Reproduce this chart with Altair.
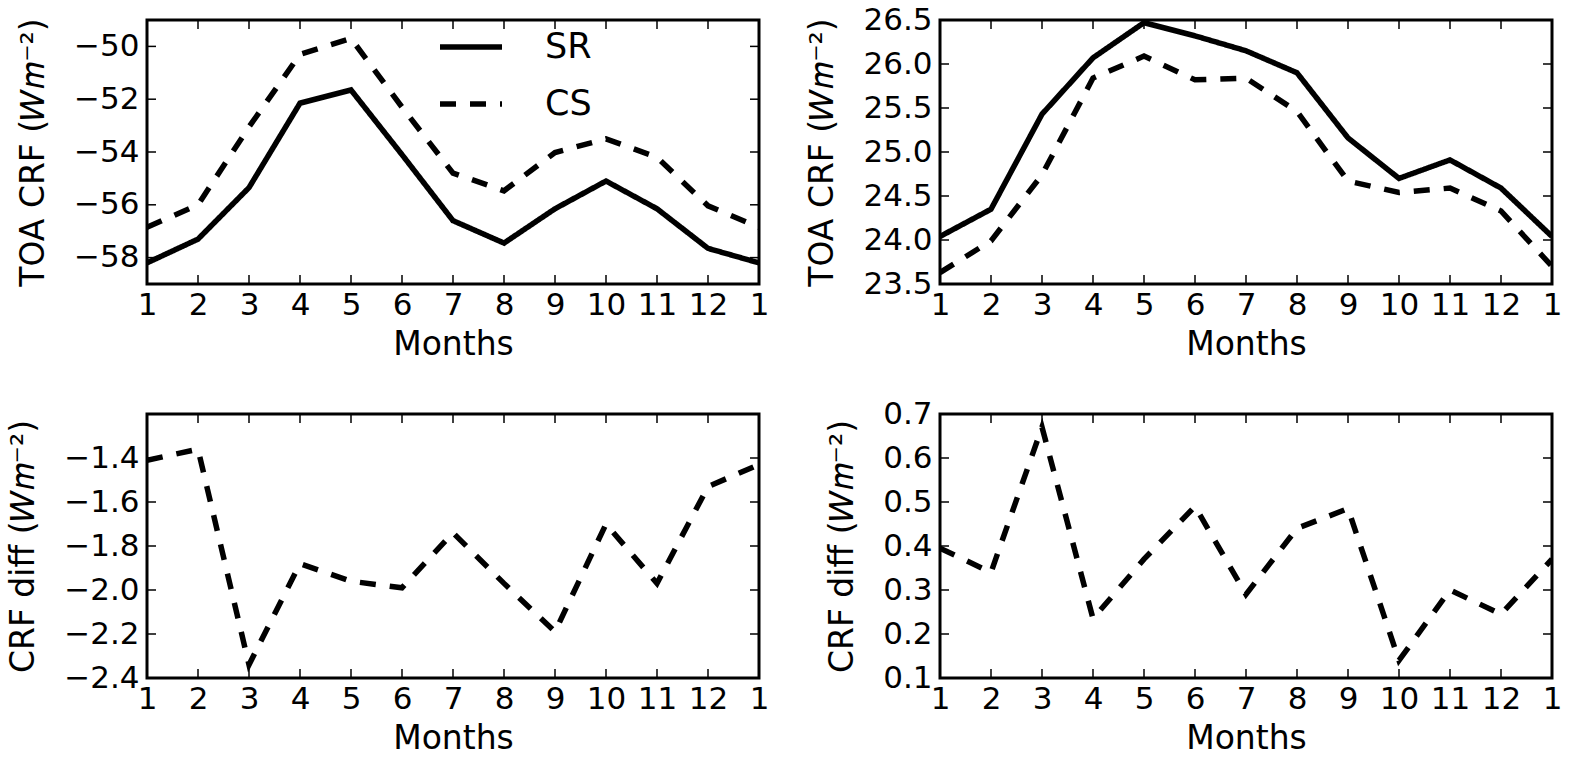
import altair as alt
import pandas as pd

# Month index; 13 closes the annual cycle back to January
months = list(range(1, 14))

# TOA cloud radiative forcing (W m^-2), shortwave-side panel
sw_sr = [-58.2, -57.3, -55.35, -52.15, -51.65, -54.1, -56.6, -57.45, -56.15, -55.1, -56.15, -57.65, -58.2]
sw_cs = [-56.85, -56.0, -53.05, -50.3, -49.7, -52.3, -54.8, -55.47, -54.02, -53.5, -54.2, -56.04, -56.85]

# TOA cloud radiative forcing (W m^-2), longwave-side panel
lw_sr = [24.04, 24.35, 25.43, 26.07, 26.47, 26.32, 26.15, 25.9, 25.16, 24.7, 24.91, 24.59, 24.04]
lw_cs = [23.63, 23.99, 24.74, 25.84, 26.09, 25.82, 25.84, 25.46, 24.67, 24.54, 24.59, 24.33, 23.7]

# SR minus CS differences
sw_diff = [-1.41, -1.36, -2.34, -1.88, -1.96, -1.99, -1.74, -1.97, -2.19, -1.70, -1.97, -1.53, -1.43]
lw_diff = [0.395, 0.34, 0.67, 0.235, 0.37, 0.49, 0.29, 0.44, 0.485, 0.14, 0.30, 0.245, 0.37]

# Axis tick values
sw_ticks = [-58, -56, -54, -52, -50]
lw_ticks = [23.5, 24.0, 24.5, 25.0, 25.5, 26.0, 26.5]
sw_diff_ticks = [-2.4, -2.2, -2.0, -1.8, -1.6, -1.4]
lw_diff_ticks = [0.1, 0.2, 0.3, 0.4, 0.5, 0.6, 0.7]

series_names = ["SR", "CS"]

W, H = 612, 264
FONT = "DejaVu Sans"
LW = 5.5
DASH = [16, 14]
TICK_LEN = 9

crf_title = "TOA CRF (\U0001D44A\U0001D45A\u207B\u00B2)"
diff_title = "CRF diff (\U0001D44A\U0001D45A\u207B\u00B2)"

x_scale = alt.Scale(domain=[1, 13], nice=False, zero=False)
x_axis = alt.Axis(
    values=months,
    labelExpr="datum.value > 12 ? '1' : datum.label",
    title="Months",
)


def panel(line_df, y_domain, ticks, fmt, ytitle, dashed_only=False, legend=None):
    y_scale = alt.Scale(domain=y_domain, nice=False, zero=False)
    y_axis = alt.Axis(values=ticks, format=fmt, title=ytitle)
    x = alt.X("month:Q", scale=x_scale, axis=x_axis)
    y = alt.Y("value:Q", scale=y_scale, axis=y_axis)
    if dashed_only:
        lines = alt.Chart(line_df).mark_line(
            color="black", strokeWidth=LW, strokeDash=DASH, clip=True
        ).encode(x=x, y=y)
    else:
        lines = alt.Chart(line_df).mark_line(
            color="black", strokeWidth=LW, clip=True
        ).encode(
            x=x,
            y=y,
            strokeDash=alt.StrokeDash(
                "series:N",
                scale=alt.Scale(domain=series_names, range=[[1, 0], DASH]),
                sort=series_names,
                legend=legend,
            ),
        )

    # inward-pointing tick marks on all four sides of the frame
    ytick_df = pd.DataFrame({"value": ticks})
    xtick_df = pd.DataFrame({"month": months})
    rule = dict(color="black", strokeWidth=1.5)
    left_ticks = alt.Chart(ytick_df).mark_rule(**rule).encode(
        y=y, x=alt.value(0), x2=alt.value(TICK_LEN))
    right_ticks = alt.Chart(ytick_df).mark_rule(**rule).encode(
        y=y, x=alt.value(W - TICK_LEN), x2=alt.value(W))
    bottom_ticks = alt.Chart(xtick_df).mark_rule(**rule).encode(
        x=x, y=alt.value(H - TICK_LEN), y2=alt.value(H))
    top_ticks = alt.Chart(xtick_df).mark_rule(**rule).encode(
        x=x, y=alt.value(0), y2=alt.value(TICK_LEN))

    return alt.layer(
        lines, left_ticks, right_ticks, bottom_ticks, top_ticks
    ).properties(width=W, height=H)


def two_series(sr, cs):
    return pd.DataFrame({
        "month": months * 2,
        "value": sr + cs,
        "series": ["SR"] * len(months) + ["CS"] * len(months),
    })


legend = alt.Legend(
    title=None,
    orient="none",
    legendX=290,
    legendY=-7,
    symbolType="stroke",
    symbolStrokeWidth=LW,
    symbolSize=3844,
    symbolStrokeColor="black",
    labelFontSize=35,
    labelFont=FONT,
    labelColor="black",
    labelOffset=40,
    rowPadding=5,
    padding=0,
)

top_left = panel(two_series(sw_sr, sw_cs), [-59, -49], sw_ticks, "d", crf_title, legend=legend)
top_right = panel(two_series(lw_sr, lw_cs), [23.5, 26.5], lw_ticks, ".1f", crf_title, legend=None)
bottom_left = panel(pd.DataFrame({"month": months, "value": sw_diff}), [-2.4, -1.2],
                    sw_diff_ticks, ".1f", diff_title, dashed_only=True)
bottom_right = panel(pd.DataFrame({"month": months, "value": lw_diff}), [0.1, 0.7],
                     lw_diff_ticks, ".1f", diff_title, dashed_only=True)

chart = alt.concat(
    top_left, top_right, bottom_left, bottom_right,
    columns=2,
    spacing={"row": 130, "column": 181},
    bounds="flush",
).properties(
    padding={"left": 6, "top": 2, "right": 5, "bottom": 5},
    background="white",
).configure_view(
    stroke="black", strokeWidth=3
).configure_axis(
    domain=False,
    ticks=False,
    tickSize=0,
    grid=False,
    labelFont=FONT,
    labelFontSize=31,
    labelColor="black",
    labelPadding=8,
    labelFlush=False,
    labelOverlap=False,
    titleFont=FONT,
    titleFontSize=33,
    titleFontWeight="normal",
    titleColor="black",
).configure_axisY(
    titlePadding=23,
).configure_axisX(
    titlePadding=8,
    labelPadding=6,
)

chart.save("out.html", embed_options={"renderer": "svg", "actions": False})
